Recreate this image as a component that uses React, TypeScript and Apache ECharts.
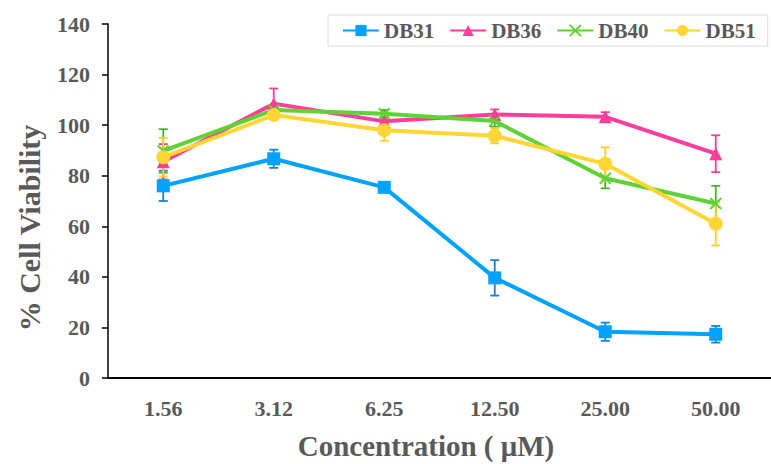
import React, { useEffect, useRef } from "react";
import * as echarts from "echarts";

const categories = ["1.56", "3.12", "6.25", "12.50", "25.00", "50.00"];
const seriesNames = ["DB31", "DB36", "DB40", "DB51"];
const db31 = [76, 86.7, 75.4, 39.6, 18.3, 17.3];
const db31Err = [6, 3.6, 1.0, 7, 3.6, 3.3];
const db36 = [85.5, 108.5, 101.5, 104.2, 103.3, 88.7];
const db36Err = [7, 6, 1.5, 2, 1.8, 7.3];
const db40 = [89.8, 106, 104.5, 101.6, 79, 69];
const db40Err = [8.6, 1.5, 1.5, 2.2, 4, 7];
const db51 = [87.3, 104, 98, 95.8, 84.7, 61];
const db51Err = [7.6, 1.5, 4.2, 3, 6.5, 8.6];
const yTicks = [0, 20, 40, 60, 80, 100, 120, 140];

const colors = ["#00A2FF", "#FF3D9A", "#5FD335", "#FFD633"];
const errColors = ["#1E7FD0", "#F0458F", "#4CAF30", "#FFD02A"];
const symbols = ["rect", "triangle", "path://M0,0L10,10M10,0L0,10", "circle"];
const symbolSizes = [13, 13, 11, 14];

export default function App() {
  const ref = useRef<HTMLDivElement>(null);
  useEffect(() => {
    if (!ref.current) return;
    const chart = echarts.init(ref.current, undefined, { renderer: "svg" });
    const means = [db31, db36, db40, db51];
    const errs = [db31Err, db36Err, db40Err, db51Err];
    const font = "'Liberation Serif', 'Times New Roman', serif";

    const errSeries = means.map((m, si) => ({
      type: "custom",
      name: seriesNames[si] + " err",
      z: 1,
      data: m.map((v, i) => [i, v - errs[si][i], v + errs[si][i]]),
      encode: { x: 0, y: [1, 2] },
      renderItem: (params: any, api: any) => {
        const x = api.value(0);
        const lo = api.coord([x, api.value(1)]);
        const hi = api.coord([x, api.value(2)]);
        const hw = 4.5;
        const style = { stroke: errColors[si], lineWidth: 1.8 };
        return {
          type: "group",
          children: [
            { type: "line", shape: { x1: lo[0], y1: lo[1], x2: hi[0], y2: hi[1] }, style },
            { type: "line", shape: { x1: lo[0] - hw, y1: lo[1], x2: lo[0] + hw, y2: lo[1] }, style },
            { type: "line", shape: { x1: hi[0] - hw, y1: hi[1], x2: hi[0] + hw, y2: hi[1] }, style },
          ],
        };
      },
    }));

    const lineSeries = means.map((m, si) => ({
      type: "line",
      name: seriesNames[si],
      data: m,
      z: 3 + si,
      symbol: symbols[si],
      symbolSize: symbolSizes[si],
      showAllSymbol: true,
      lineStyle: { color: colors[si], width: 4 },
      itemStyle:
        si === 2
          ? { color: colors[si], borderColor: colors[si], borderWidth: 2 }
          : { color: colors[si], borderWidth: 0 },
    }));

    chart.setOption({
      animation: false,
      grid: { left: 108, top: 24, bottom: 86, right: -11, containLabel: false },
      legend: {
        data: seriesNames,
        left: 328,
        top: 15,
        itemWidth: 36,
        itemHeight: 14,
        itemGap: 15,
        padding: [5, 12, 5, 14],
        borderColor: "#dcdcdc",
        borderWidth: 1,
        textStyle: { fontFamily: font, fontWeight: "bold", fontSize: 21, color: "#595959" },
      },
      xAxis: {
        type: "category",
        data: categories,
        boundaryGap: true,
        axisLine: { lineStyle: { color: "#000", width: 2 } },
        axisTick: { show: false },
        axisLabel: {
          margin: 19,
          fontFamily: font,
          fontWeight: "bold",
          fontSize: 22,
          color: "#595959",
        },
      },
      yAxis: {
        type: "value",
        min: 0,
        max: 140,
        interval: 20,
        splitLine: { show: false },
        axisLine: { show: true, lineStyle: { color: "#000", width: 1.5 } },
        axisTick: { show: true, length: 6, lineStyle: { color: "#000", width: 1.5 } },
        axisLabel: {
          margin: 18,
          fontFamily: font,
          fontWeight: "bold",
          fontSize: 22,
          color: "#595959",
          formatter: (v: number) => (yTicks.includes(v) ? String(v) : ""),
        },
      },
      graphic: [
        {
          type: "text",
          x: 29,
          y: 228,
          rotation: Math.PI / 2,
          style: {
            text: "% Cell Viability",
            fontFamily: font,
            fontWeight: "bold",
            fontSize: 30,
            fill: "#595959",
            align: "center",
            verticalAlign: "middle",
          },
        },
        {
          type: "text",
          x: 426,
          y: 446,
          style: {
            text: "Concentration ( μM)",
            fontFamily: font,
            fontWeight: "bold",
            fontSize: 29,
            fill: "#595959",
            align: "center",
            verticalAlign: "middle",
          },
        },
      ],
      series: [...errSeries, ...lineSeries],
    });
    return () => chart.dispose();
  }, []);
  return (
    <div
      ref={ref}
      style={{ position: "absolute", left: 0, top: 0, width: 771, height: 464, background: "#fff" }}
    />
  );
}
